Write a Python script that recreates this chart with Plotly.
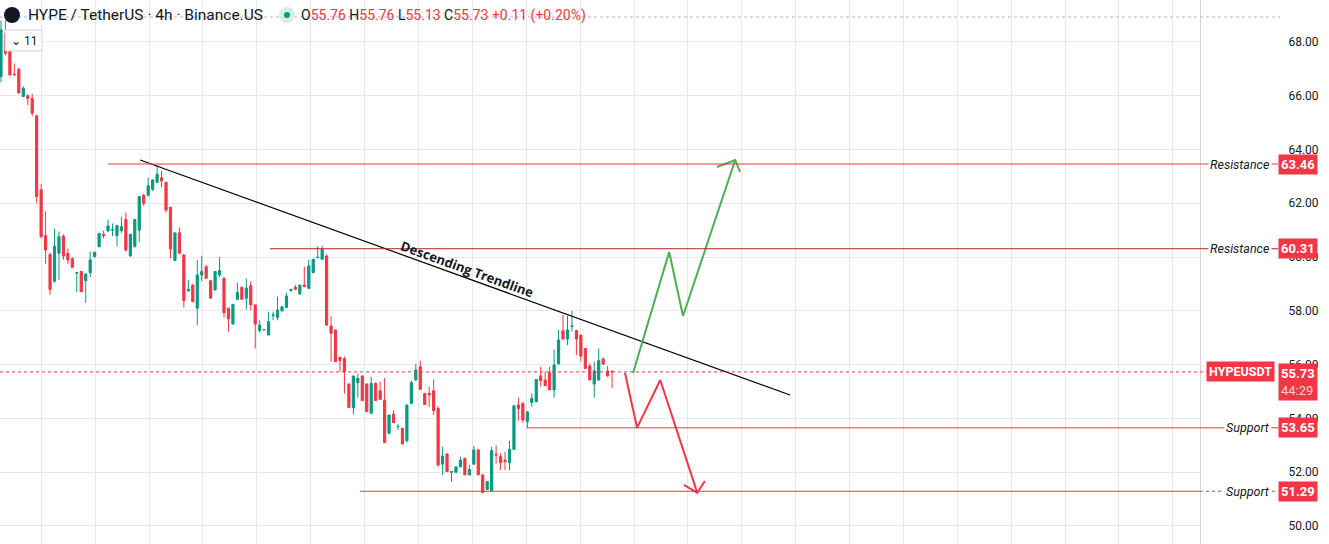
import plotly.graph_objects as go

ohlc = [
(66.71,68.8,66.5,68.45),(68.3,68.8,67.5,67.58),(67.8,67.85,66.75,66.77),(66.8,67.2,66.75,66.78),
(66.98,67.05,66.1,66.1),(65.97,66.35,65.95,66.28),(66.0,66.05,65.65,65.9),(65.9,66.07,65.25,65.35),
(65.25,65.3,62.0,62.25),(62.5,62.72,60.7,60.76),(60.8,61.7,59.75,60.26),(60.1,60.15,58.6,58.8),
(59.1,61.05,59.05,60.4),(60.14,60.95,59.15,60.76),(60.78,60.85,59.9,60.04),(60.14,60.32,59.75,59.89),
(59.94,60.0,59.6,59.62),(59.4,59.45,58.7,59.42),(59.46,59.5,58.71,58.71),(59.12,59.4,58.3,59.37),
(59.42,60.2,59.25,59.89),(60.02,60.2,59.98,60.18),(60.39,60.9,60.35,60.88),(60.85,60.98,60.7,60.8),
(60.97,61.4,60.95,61.16),(61.0,61.25,60.78,61.02),(60.8,61.2,60.4,61.17),(60.98,61.5,60.9,61.13),
(61.4,61.65,60.2,60.26),(60.05,60.85,60.0,60.85),(60.4,61.4,60.35,61.4),(61.0,62.25,60.55,62.25),
(62.3,62.35,61.9,62.0),(62.3,62.95,62.25,62.65),(62.52,62.9,62.45,62.87),(62.78,63.42,62.75,63.08),
(62.95,63.2,62.6,62.83),(62.78,62.8,61.65,61.75),(61.85,61.85,59.95,60.3),(59.87,60.9,59.85,60.9),
(60.9,61.1,60.14,60.14),(60.08,60.1,58.13,58.38),(58.75,59.15,58.7,58.8),(58.96,59.0,58.34,58.34),
(58.1,59.9,57.47,59.33),(59.33,60.05,59.1,59.46),(59.64,59.7,59.21,59.21),(59.12,59.15,58.47,58.47),
(58.78,59.46,58.75,59.46),(59.33,60.0,59.25,59.5),(59.21,59.25,57.75,57.93),(58.1,58.1,57.22,57.7),
(57.51,58.24,57.5,58.24),(58.43,59.05,58.4,58.68),(58.88,58.9,58.43,58.43),(58.47,59.2,58.05,58.84),
(58.94,59.1,58.03,58.22),(58.22,58.25,56.6,57.51),(57.27,57.65,57.2,57.47),(57.3,57.32,57.28,57.3),
(57.1,57.97,57.1,57.6),(57.82,57.97,57.65,57.85),(57.75,58.53,57.65,58.03),(58.0,58.17,57.98,58.15),
(58.13,58.67,58.1,58.55),(58.75,58.82,58.72,58.8),(58.88,58.96,58.78,58.8),(58.63,58.96,58.6,58.96),
(58.96,59.65,58.88,58.9),(58.84,59.9,58.8,59.67),(59.42,59.92,59.4,59.92),(59.98,60.4,59.96,59.99),
(59.92,60.42,59.9,60.29),(60.04,60.1,57.44,57.47),(57.44,57.8,56.11,57.17),(57.29,57.3,56.11,56.11),
(56.27,56.3,55.74,56.15),(56.23,56.3,54.93,55.74),(55.28,55.3,54.4,54.4),(54.4,55.58,54.15,55.58),
(55.33,55.67,54.78,55.49),(55.58,55.6,54.66,54.66),(55.28,55.3,54.25,54.25),(54.19,55.55,54.19,55.3),
(55.3,55.35,54.66,54.66),(55.03,55.37,54.68,54.71),(54.68,55.5,53.1,53.1),(53.45,54.13,53.4,54.13),
(54.16,54.3,53.84,53.84),(53.69,53.79,53.57,53.7),(53.63,53.65,53.05,53.05),(53.17,54.5,53.1,54.5),
(54.56,55.4,54.53,55.33),(55.43,56.03,55.4,55.8),(55.92,56.15,55.08,55.08),(54.93,54.95,54.52,54.52),
(54.93,55.18,54.43,54.87),(55.03,55.45,54.13,54.29),(54.37,54.46,52.2,52.27),(52.3,52.95,51.9,52.6),
(52.68,52.7,52.02,52.02),(52.0,52.03,51.65,52.02),(52.0,52.2,51.98,52.2),(52.2,52.58,52.18,52.45),
(52.51,52.55,51.9,51.9),(51.9,52.27,51.88,52.1),(52.3,52.98,52.27,52.83),(52.83,52.85,51.9,51.9),
(51.9,51.92,51.24,51.24),(51.36,51.68,51.33,51.65),(51.31,52.95,51.3,52.8),(52.66,53.0,52.33,52.64),
(52.58,52.7,52.08,52.35),(52.45,52.76,52.08,52.39),(52.35,53.16,52.08,52.85),(52.85,54.47,52.83,54.47),
(54.5,54.78,53.92,54.37),(54.56,54.6,53.84,53.94),(53.88,54.25,53.63,54.25),(54.59,54.93,54.43,54.75),
(54.62,55.45,54.6,55.45),(55.58,55.93,55.18,55.4),(55.43,55.74,55.22,55.22),(55.7,55.93,55.06,55.06),
(55.06,56.57,54.78,55.99),(56.03,57.29,56.0,56.92),(57.26,57.85,56.95,56.95),(56.95,57.81,56.73,57.29),
(57.42,58.0,57.23,57.44),(57.26,57.3,56.36,56.95),(57.1,57.1,56.11,56.32),(56.6,56.6,55.86,55.86),
(55.95,56.05,55.43,55.43),(55.28,56.11,54.78,55.77),(55.43,56.6,55.4,56.15),(56.21,56.27,55.99,56.02),
(55.76,55.95,55.55,55.58),(55.76,55.76,55.13,55.73),
]
opens = [r[0] for r in ohlc]
highs = [r[1] for r in ohlc]
lows = [r[2] for r in ohlc]
closes = [r[3] for r in ohlc]
idx = list(range(len(ohlc)))

levels = [("Resistance", 63.46, 24.0), ("Resistance", 60.31, 60.3), ("Support", 53.65, 118.0), ("Support", 51.29, 80.5)]
last_price = 55.73
trend = ([31.2, 176.9], [63.61, 54.87])
green_path = ([141.7, 149.8, 152.9, 164.6], [55.69, 60.19, 57.81, 63.61])
green_head = ([160.5, 164.6, 165.7], [63.35, 63.61, 63.17])
red_path = ([139.9, 142.6, 147.8, 156.1], [55.69, 53.65, 55.43, 51.23])
red_head = ([153.1, 156.1, 157.8], [51.53, 51.23, 51.67])

GREEN = "#089981"; RED = "#f23645"
W, H, PW = 1329, 544, 1200
def px(x): return x / PW
def py(y): return 1 - y / H

fig = go.Figure()
fig.add_trace(go.Candlestick(x=idx, open=opens, high=highs, low=lows, close=closes,
    increasing=dict(line=dict(color=GREEN, width=1), fillcolor=GREEN),
    decreasing=dict(line=dict(color=RED, width=1), fillcolor=RED),
    whiskerwidth=0, hoverinfo="skip"))
fig.add_trace(go.Scatter(x=trend[0], y=trend[1], mode="lines", line=dict(color="#000", width=1.2), hoverinfo="skip"))
for p in (green_path, green_head):
    fig.add_trace(go.Scatter(x=p[0], y=p[1], mode="lines", line=dict(color="#4caf50", width=2), hoverinfo="skip"))
for p in (red_path, red_head):
    fig.add_trace(go.Scatter(x=p[0], y=p[1], mode="lines", line=dict(color=RED, width=2), hoverinfo="skip"))

shapes = []
anns = []
for name, v, x0 in levels:
    col = "#b22222" if v == 60.31 else RED
    shapes.append(dict(type="line", xref="x", yref="y", x0=x0, x1=400, y0=v, y1=v, line=dict(color=col, width=1)))
    shapes.append(dict(type="line", xref="paper", yref="y", x0=1, x1=px(1278), y0=v, y1=v, line=dict(color=col, width=1, dash="dot" if v < 52 else "solid")))
    anns.append(dict(xref="paper", yref="y", x=px(1272), y=v, xanchor="right", text=f"<i>{name}</i>", showarrow=False,
                     font=dict(size=12.5, color="#131722"), bgcolor="white", borderpad=1))
    anns.append(dict(xref="paper", yref="y", x=px(1278), y=v, xanchor="left", text=f"<b>{v:.2f}</b>", showarrow=False,
                     font=dict(size=13, color="white"), bgcolor=RED, borderpad=2))
shapes.append(dict(type="line", xref="paper", yref="y", x0=0, x1=px(1212), y0=last_price, y1=last_price, line=dict(color=RED, width=1, dash="dot")))
anns.append(dict(xref="paper", yref="y", x=px(1275), y=last_price, xanchor="right", text="<b>HYPEUSDT</b>", showarrow=False,
                 font=dict(size=12.5, color="white"), bgcolor=RED, borderpad=2))
anns.append(dict(xref="paper", yref="y", x=px(1278), y=last_price, yanchor="top", yshift=9, xanchor="left",
                 text="<b>55.73</b><br><span style='color:#fbd0d4'>44:29</span>", showarrow=False,
                 font=dict(size=13, color="white"), bgcolor=RED, borderpad=2, align="left"))
anns.append(dict(xref="x", yref="y", x=104.5, y=59.55, text="<b>Descending Trendline</b>", textangle=20, showarrow=False,
                 font=dict(size=13, color="#131722", family="Open Sans")))
shapes.append(dict(type="line", xref="paper", yref="paper", x0=0, x1=px(1280), y0=py(17), y1=py(17), line=dict(color="#b2b5be", width=1, dash="dot")))
shapes.append(dict(type="circle", xref="paper", yref="paper", x0=px(4), x1=px(20), y0=py(23), y1=py(7), fillcolor="#131722", line=dict(width=0)))
shapes.append(dict(type="circle", xref="paper", yref="paper", x0=px(279), x1=px(295), y0=py(23), y1=py(7), fillcolor="#d5efe8", line=dict(width=0)))
shapes.append(dict(type="circle", xref="paper", yref="paper", x0=px(284), x1=px(290), y0=py(18), y1=py(12), fillcolor=GREEN, line=dict(width=0)))
shapes.append(dict(type="rect", xref="paper", yref="paper", x0=px(5), x1=px(42), y0=py(51), y1=py(30), fillcolor="white", line=dict(color="#d1d4dc", width=1)))
anns.append(dict(xref="paper", yref="paper", x=px(26), y=py(15), xanchor="left", yanchor="middle", showarrow=False,
                 text="HYPE / TetherUS · 4h · Binance.US", font=dict(size=15.5, color="#131722")))
R = lambda s: f"<span style='color:{RED}'>{s}</span>"
anns.append(dict(xref="paper", yref="paper", x=px(299), y=py(15), xanchor="left", yanchor="middle", showarrow=False,
                 text="O" + R("55.76") + " H" + R("55.76") + " L" + R("55.13") + " C" + R("55.73") + " " + R("+0.11 (+0.20%)"),
                 font=dict(size=14, color="#131722")))
anns.append(dict(xref="paper", yref="paper", x=px(23.5), y=py(41), xanchor="center", yanchor="middle", showarrow=False,
                 text="⌄ 11", font=dict(size=12, color="#131722")))

fig.update_layout(
    width=W, height=H, margin=dict(l=0, r=W - PW, t=0, b=0), showlegend=False,
    plot_bgcolor="white", paper_bgcolor="white",
    font=dict(family="Roboto, Liberation Sans, sans-serif"),
    shapes=shapes, annotations=anns,
    xaxis=dict(range=[-0.22, 268.8], rangeslider=dict(visible=False), showticklabels=False,
               tick0=9.04, dtick=12.08, showgrid=True, gridcolor="#e6e8ee", zeroline=False),
    yaxis=dict(range=[49.33, 69.56], side="right", tickvals=[50,52,54,56,58,60,62,64,66,68],
               ticktext=[f"{v:.2f}" for v in [50,52,54,56,58,60,62,64,66,68]], ticks="", ticklabelstandoff=85,
               tickfont=dict(size=12, color="#131722"), showgrid=True, gridcolor="#e6e8ee", zeroline=False,
               showline=True, linecolor="#d1d4dc"),
)
fig.write_html("out.html", config={"displayModeBar": False},
               post_script="document.body.style.margin='0';document.body.style.overflow='hidden';")
